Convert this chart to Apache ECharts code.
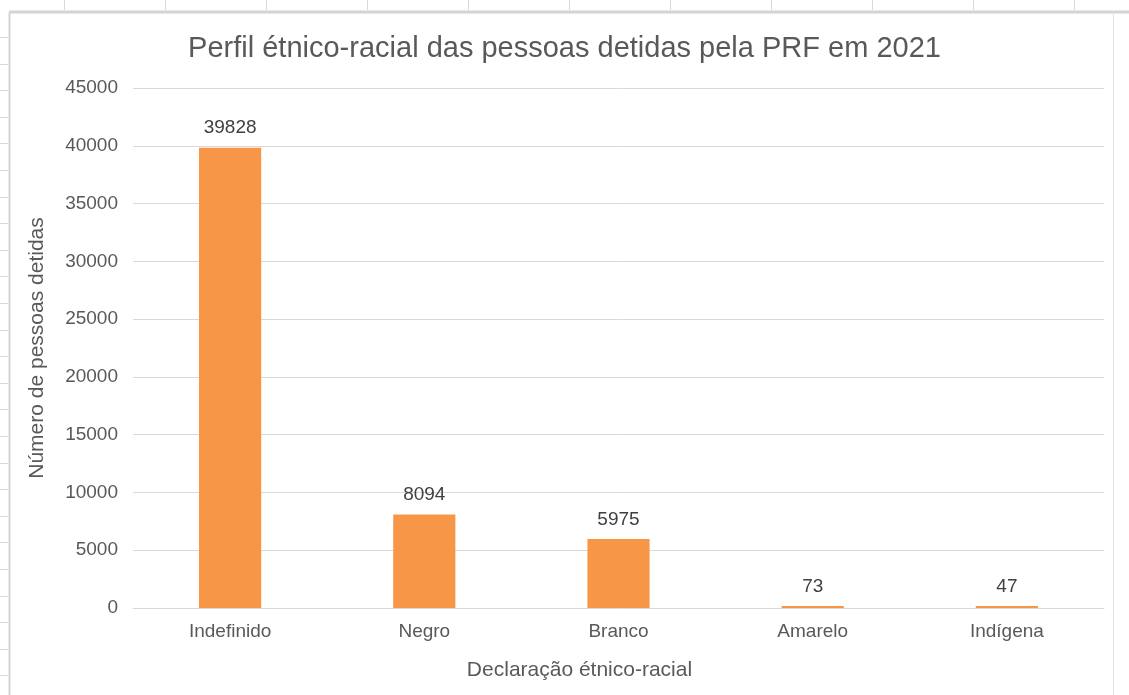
<!DOCTYPE html>
<html>
<head>
<meta charset="utf-8">
<script src="https://cdn.jsdelivr.net/npm/echarts@6/dist/echarts.min.js"></script>
<style>
html,body{margin:0;padding:0;background:#fff;}
#c{width:1129px;height:695px;}
</style>
</head>
<body>
<div id="c"></div>
<script>
const categories = ['Indefinido', 'Negro', 'Branco', 'Amarelo', 'Indígena'];
const values = [39828, 8094, 5975, 73, 47];
const titleText = 'Perfil étnico-racial das pessoas detidas pela PRF em 2021';
const xName = 'Declaração étnico-racial';
const yName = 'Número de pessoas detidas';

const font = '"Liberation Sans", Arial, sans-serif';
const chart = echarts.init(document.getElementById('c'), null, {renderer: 'canvas'});

// spreadsheet decoration
const deco = [];
for (let x = 64; x < 1129; x += 101) {
  deco.push({type: 'line', shape: {x1: x + 0.5, y1: 0, x2: x + 0.5, y2: 10}, style: {stroke: '#d9d9d9', lineWidth: 1}, silent: true});
}
for (let y = 37; y < 695; y += 26.6) {
  deco.push({type: 'line', shape: {x1: 0, y1: Math.round(y) + 0.5, x2: 8, y2: Math.round(y) + 0.5}, style: {stroke: '#d9d9d9', lineWidth: 1}, silent: true});
}
deco.push({type: 'line', shape: {x1: 9, y1: 12, x2: 1129, y2: 12}, style: {stroke: '#d4d4d4', lineWidth: 3}, silent: true});
deco.push({type: 'line', shape: {x1: 9.5, y1: 12, x2: 9.5, y2: 695}, style: {stroke: '#d4d4d4', lineWidth: 2}, silent: true});
deco.push({type: 'line', shape: {x1: 1113.5, y1: 12, x2: 1113.5, y2: 695}, style: {stroke: '#e3e3e3', lineWidth: 1}, silent: true});

chart.setOption({
  backgroundColor: '#ffffff',
  animation: false,
  graphic: deco,
  title: {
    text: titleText,
    left: 'center',
    top: 29,
    textStyle: {fontFamily: font, fontSize: 29, fontWeight: 'normal', color: '#595959'}
  },
  grid: {left: 133, right: 25, top: 88, bottom: 87, containLabel: false},
  xAxis: {
    type: 'category',
    data: categories,
    name: xName,
    nameLocation: 'middle',
    nameGap: 52,
    nameTextStyle: {fontFamily: font, fontSize: 21, color: '#595959', padding: [0, 78, 0, 0]},
    axisLine: {lineStyle: {color: '#d9d9d9'}},
    axisTick: {show: false},
    axisLabel: {fontFamily: font, fontSize: 19, color: '#595959', margin: 14}
  },
  yAxis: {
    type: 'value',
    min: 0,
    max: 45000,
    interval: 5000,
    name: yName,
    nameLocation: 'middle',
    nameGap: 85,
    nameRotate: 90,
    nameTextStyle: {fontFamily: font, fontSize: 21, color: '#595959'},
    axisLine: {show: false},
    axisTick: {show: false},
    axisLabel: {fontFamily: font, fontSize: 19, color: '#595959', margin: 15, formatter: function (v) { return String(v); }},
    splitLine: {lineStyle: {color: '#d9d9d9', width: 1}}
  },
  series: [{
    type: 'bar',
    data: values,
    barCategoryGap: '68%',
    barMinHeight: 2,
    itemStyle: {color: '#F79646'},
    label: {
      show: true,
      position: 'top',
      distance: 10,
      fontFamily: font,
      fontSize: 19,
      color: '#404040'
    }
  }]
});
</script>
</body>
</html>
